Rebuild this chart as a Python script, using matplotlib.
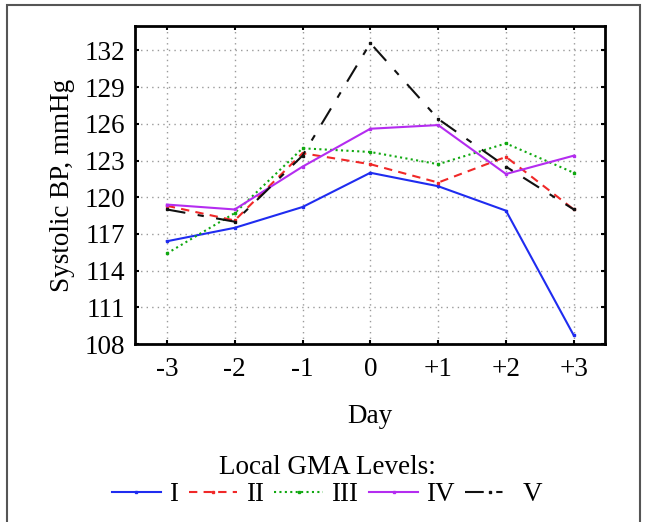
import matplotlib
matplotlib.use("Agg")
import matplotlib.pyplot as plt
from matplotlib.patches import Rectangle

plt.rcParams['font.family'] = ['Liberation Serif', 'DejaVu Serif']

days = [-3, -2, -1, 0, 1, 2, 3]
day_labels = ["-3", "-2", "-1", "0", "+1", "+2", "+3"]
yticks = [108, 111, 114, 117, 120, 123, 126, 129, 132]

level_names = ["I", "II", "III", "IV", "V"]
bp_I = [116.4, 117.5, 119.2, 122.0, 120.9, 118.9, 108.7]
bp_II = [119.3, 118.1, 123.6, 122.7, 121.2, 123.3, 119.0]
bp_III = [115.4, 118.7, 124.0, 123.7, 122.7, 124.4, 122.0]
bp_IV = [119.4, 119.0, 122.5, 125.6, 125.9, 121.9, 123.4]
bp_V = [119.0, 118.0, 123.4, 132.6, 126.4, 122.5, 119.0]

series = [bp_I, bp_II, bp_III, bp_IV, bp_V]
colors = ["#1f2cf0", "#f02828", "#10a810", "#b42cf0", "#111111"]
styles = [dict(linestyle="-"),
          dict(linestyle=(0, (4, 3))),
          dict(linestyle=(0, (1, 1.6))),
          dict(linestyle="-"),
          dict(linestyle=(0, (9, 6, 3, 6)))]

FS = 19.5

fig = plt.figure(figsize=(6.45, 5.22), dpi=100)
ax = fig.add_axes([135 / 645, 1 - 344 / 522, (605 - 135) / 645, (344 - 26) / 522])

for vals, c, st, name in zip(series, colors, styles, level_names):
    ax.plot(days, vals, color=c, lw=1.5, marker="s", markersize=2,
            label=name, **st)

ax.set_xlim(-3.47, 3.46)
ax.set_ylim(108, 134)
ax.set_xticks(days)
ax.set_xticklabels(day_labels)
ax.set_yticks(yticks)
ax.tick_params(direction="in", length=3, width=1.5, labelsize=FS,
               top=True, right=True)
ax.tick_params(axis="x", pad=9)
ax.tick_params(axis="y", pad=7)
ax.grid(True, color="#9a9a9a", linestyle=(0, (1, 3)), lw=1)
for s in ax.spines.values():
    s.set_linewidth(2)

ax.set_ylabel("Systolic BP, mmHg", fontsize=FS, labelpad=7)
ax.set_xlabel("Day", fontsize=FS, labelpad=16)

leg = fig.legend(loc="center", bbox_to_anchor=(327 / 645, 1 - 481 / 522), ncol=5,
                 frameon=False, title="Local GMA Levels:", fontsize=FS,
                 title_fontsize=FS, handlelength=1.8, handletextpad=0.3,
                 columnspacing=0.4, borderpad=0, labelspacing=0.1,
                 numpoints=1)

fig.patches.append(Rectangle((7 / 645, -0.1), (640 - 7) / 645, 1.1 - 5 / 522,
                             transform=fig.transFigure, fill=False,
                             edgecolor="#555555", lw=1.5))

fig.savefig("out.png", dpi=100)
